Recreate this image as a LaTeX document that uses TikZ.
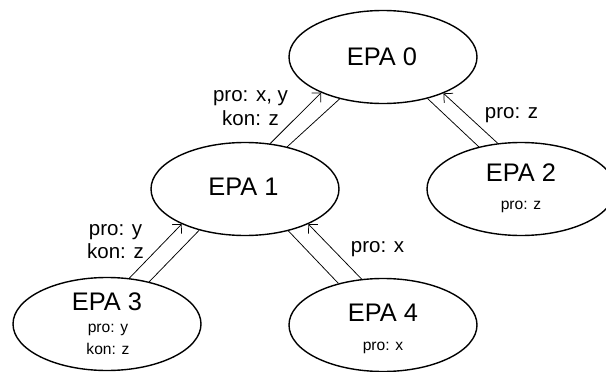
\documentclass[tikz,border=0pt]{standalone}
\usepackage{fontspec}
\setmainfont{Liberation Sans}
\usetikzlibrary{arrows.meta,shapes.geometric}

\tikzset{
  epa/.style={ellipse, draw=black, line width=1.4pt, minimum width=188pt,
              minimum height=93pt, inner sep=0pt},
  title/.style={inner sep=0pt, anchor=base, font=\fontsize{25.4}{30}\selectfont},
  note/.style={inner sep=0pt, anchor=base, font=\fontsize{15.6}{19}\selectfont},
  edgelbl/.style={inner sep=0pt, anchor=base, font=\fontsize{20.5}{24}\selectfont},
  link/.style={draw=black, line width=0.75pt},
  uplink/.style={link, -{Straight Barb[length=6.5pt,width=13pt,line width=0.75pt]}}
}

\begin{document}
\begin{tikzpicture}[x=1pt,y=-1pt]
  \useasboundingbox (0,0) rectangle (606,372);
  \clip (0,0) rectangle (606,372);

  % ellipses
  \node[epa] (e0) at (383,57)  {};
  \node[epa] (e1) at (245,189) {};
  \node[epa] (e2) at (521,189) {};
  \node[epa] (e3) at (107,324) {};
  \node[epa] (e4) at (383,325) {};

  % titles and contents
  \node[title] (t0) at (382,65)    {EPA 0};
  \node[title] (t1) at (243.5,195.5) {EPA 1};
  \node[title] (t2) at (521,181.5) {EPA 2};
  \node[note]  (n2) at (521,209)   {pro: z};
  \node[title] (t3) at (107,310)   {EPA 3};
  \node[note]  (n3a) at (108,332)  {pro: y};
  \node[note]  (n3b) at (108,354)  {kon: z};
  \node[title] (t4) at (383,321.5) {EPA 4};
  \node[note]  (n4) at (383,350)   {pro: x};

  % paired connectors
  \draw[uplink] (e1.61)  -- (e0.210);
  \draw[link]   (e1.45)  -- (e0.224);

  \draw[link]   (e0.-43) -- (e2.135);
  \draw[uplink] (e2.117) -- (e0.-31);

  \draw[uplink] (e3.64)  -- (e1.209);
  \draw[link]   (e3.45)  -- (e1.222);

  \draw[link]   (e1.-44) -- (e4.137);
  \draw[uplink] (e4.115) -- (e1.-29.5);

  % connector labels
  \node[edgelbl] (l10a) at (250.5,101.5) {pro: x, y};
  \node[edgelbl] (l10b) at (250.5,125)   {kon: z};
  \node[edgelbl] (l20)  at (511.5,118.5) {pro: z};
  \node[edgelbl] (l31a) at (115.5,235)   {pro: y};
  \node[edgelbl] (l31b) at (115.5,258)   {kon: z};
  \node[edgelbl] (l41)  at (377.5,252)   {pro: x};
\end{tikzpicture}
\end{document}
